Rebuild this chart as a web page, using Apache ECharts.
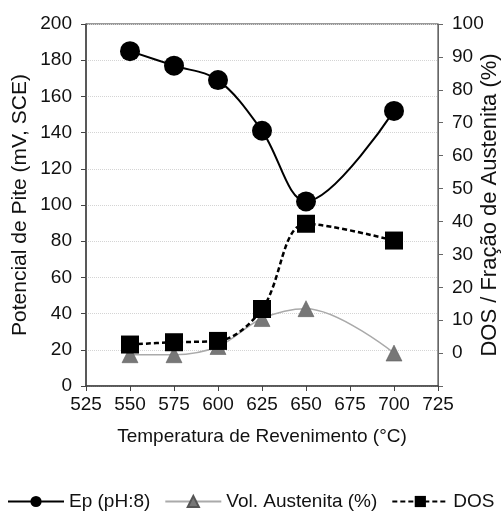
<!DOCTYPE html>
<html>
<head>
<meta charset="utf-8">
<script src="https://cdn.jsdelivr.net/npm/echarts@6/dist/echarts.min.js"></script>
<style>html,body{margin:0;padding:0;background:#fff;overflow:hidden;width:504px;height:512px}#c{width:504px;height:512px}</style>
</head>
<body>
<div id="c"></div>
<script>
const temps = [550, 575, 600, 625, 650, 700];
const epValues = [185, 177, 169, 141, 102, 152];
const volAustenita = [-0.5, -0.5, 2, 10.5, 13.5, 0];
const dosValues = [2.6, 3.3, 3.7, 13.4, 39.3, 34.2];
const xTicks = [525, 725, 25];
const leftTicks = [0, 200, 20];
const rightTicks = [-10, 100, 10];

const pairs = (ys) => temps.map((t, i) => [t, ys[i]]);
const font = 'Liberation Sans, Arial, sans-serif';
const fs = 19;

const chart = echarts.init(document.getElementById('c'), null, {renderer: 'canvas', width: 504, height: 512});
chart.setOption({
  animation: false,
  backgroundColor: '#fff',
  textStyle: {fontFamily: font},
  grid: {left: 86, right: 66, top: 24, bottom: 126, show: true, borderColor: '#333', borderWidth: 1,
         containLabel: false, outerBoundsMode: 'none'},
  legend: {
    bottom: 1, left: 7, right: 0, padding: 0, itemWidth: 56, itemHeight: 14, itemGap: 14,
    textStyle: {fontSize: fs, color: '#111', fontFamily: font},
    data: ['Ep (pH:8)', 'Vol. Austenita (%)', 'DOS']
  },
  xAxis: {
    type: 'value', min: xTicks[0], max: xTicks[1], interval: xTicks[2],
    name: 'Temperatura de Revenimento (°C)', nameLocation: 'middle', nameGap: 41, nameMoveOverlap: false,
    nameTextStyle: {fontSize: fs, color: '#111'},
    axisLine: {lineStyle: {color: '#444', width: 1.5}},
    axisTick: {show: true, inside: false, length: 5, lineStyle: {color: '#444'}},
    axisLabel: {fontSize: fs, color: '#111', margin: 9},
    splitLine: {show: false}
  },
  yAxis: [{
    type: 'value', min: leftTicks[0], max: leftTicks[1], interval: leftTicks[2],
    name: 'Potencial de Pite (mV, SCE)', nameLocation: 'middle', nameGap: 55, nameMoveOverlap: false,
    nameTextStyle: {fontSize: 21, color: '#111'},
    axisLine: {show: true, lineStyle: {color: '#444', width: 1.5}},
    axisTick: {show: true, length: 5, lineStyle: {color: '#444'}},
    axisLabel: {fontSize: fs, color: '#111', margin: 14},
    splitLine: {show: true, lineStyle: {color: '#d4d4d4', type: 'dotted', width: 1}}
  }, {
    type: 'value', position: 'right', min: rightTicks[0], max: rightTicks[1], interval: rightTicks[2],
    name: 'DOS / Fração de Austenita (%)', nameLocation: 'middle', nameGap: 41, nameRotate: 90, nameMoveOverlap: false,
    nameTextStyle: {fontSize: 22, color: '#111'},
    axisLine: {show: true, lineStyle: {color: '#666', width: 1}},
    axisTick: {show: true, length: 5, lineStyle: {color: '#666'}},
    axisLabel: {fontSize: fs, color: '#111', margin: 14, formatter: v => v < 0 ? '' : String(v)},
    splitLine: {show: false}
  }],
  series: [{
    name: 'Ep (pH:8)', type: 'line', yAxisIndex: 0, data: pairs(epValues),
    smooth: 0.35, smoothConstraint: false,
    symbol: 'circle', symbolSize: 20,
    lineStyle: {color: '#000', width: 2},
    itemStyle: {color: '#000'}, z: 3
  }, {
    name: 'Vol. Austenita (%)', type: 'line', yAxisIndex: 1, data: pairs(volAustenita),
    smooth: 0.35, smoothConstraint: false,
    symbol: 'triangle', symbolSize: 16,
    lineStyle: {color: '#aaa', width: 1.5},
    itemStyle: {color: '#777', borderColor: '#555', borderWidth: 0.5}, z: 2
  }, {
    name: 'DOS', type: 'line', yAxisIndex: 1, data: pairs(dosValues),
    smooth: 0.35, smoothConstraint: false,
    symbol: 'rect', symbolSize: 18,
    lineStyle: {color: '#000', width: 2.5, type: [5, 3]},
    itemStyle: {color: '#000'}, z: 4
  }]
});
</script>
</body>
</html>
